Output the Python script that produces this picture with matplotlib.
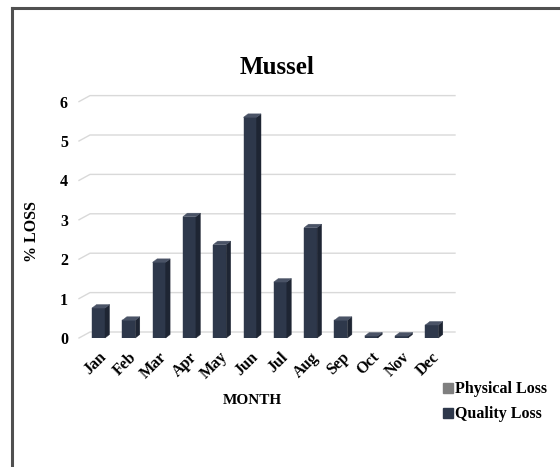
import matplotlib
matplotlib.use("Agg")
import matplotlib.pyplot as plt
from matplotlib.patches import Polygon
from matplotlib.lines import Line2D
import numpy as np

months = ["Jan", "Feb", "Mar", "Apr", "May", "Jun", "Jul", "Aug", "Sep", "Oct", "Nov", "Dec"]
quality_loss = [0.76, 0.45, 1.92, 3.08, 2.37, 5.6, 1.42, 2.8, 0.45, 0.05, 0.05, 0.33]
physical_loss = [0, 0, 0, 0, 0, 0, 0, 0, 0, 0, 0, 0]
yticks = [0, 1, 2, 3, 4, 5, 6]

FONT = "Liberation Serif"
FRONT = "#2E384B"
SIDE = "#1E2533"
TOP = "#4A5366"
PHYS = "#7F7F7F"

fig = plt.figure(figsize=(5.6, 4.67), dpi=100)
# border (top and left visible)
fig.add_artist(Line2D([11.5/560, 11.5/560], [0, 1 - 7.5/467], color="#505050", lw=2.2))
fig.add_artist(Line2D([11.5/560, 1], [1 - 7.5/467, 1 - 7.5/467], color="#505050", lw=2.2))

# axes in pixel coordinates (front plane)
left_px, right_px = 79, 444
zero_px, top_px = 338, 92
ax = fig.add_axes([left_px/560, (467-zero_px)/467, (right_px-left_px)/560, (zero_px-top_px)/467])
unit_x = 30.3
unit_y = 39.4
xmin = (left_px - 98.5)/unit_x
xmax = (right_px - 98.5)/unit_x
ax.set_xlim(xmin, xmax)
ax.set_ylim(0, (zero_px - top_px)/unit_y)
for s in ax.spines.values():
    s.set_visible(False)
ax.set_facecolor("none")

# floor depth for back wall gridlines
fdx = 11/unit_x
fdy = 6/unit_y
for t in yticks:
    ax.plot([xmin, xmin + fdx, xmax + fdx], [t, t + fdy, t + fdy], color="#D9D9D9",
            lw=1.0, clip_on=False, zorder=1)

x = np.arange(len(months))
w = 13/unit_x
bdx = 4.5/unit_x
bdy = 3.5/unit_y
ax.bar(x, physical_loss, width=w, color=PHYS, zorder=2)
ax.bar(x, quality_loss, width=w, color=FRONT, zorder=3, edgecolor=FRONT, linewidth=0.3)
for xi, v in zip(x, quality_loss):
    r = xi + w/2
    l = xi - w/2
    ax.add_patch(Polygon([(r, 0), (r + bdx, bdy), (r + bdx, v + bdy), (r, v)],
                         closed=True, facecolor=SIDE, edgecolor=SIDE, lw=0.3, zorder=3, clip_on=False))
    ax.add_patch(Polygon([(l, v), (r, v), (r + bdx, v + bdy), (l + bdx, v + bdy)],
                         closed=True, facecolor=TOP, edgecolor=TOP, lw=0.3, zorder=3, clip_on=False))

ax.set_yticks(yticks)
ax.set_yticklabels([str(t) for t in yticks], fontfamily=FONT, fontweight="bold", fontsize=11.5)
ax.tick_params(axis="y", length=0, pad=8)
ax.set_xticks(x)
ax.set_xticklabels(months, rotation=45, ha="right", va="top", rotation_mode="anchor",
                   fontfamily=FONT, fontweight="bold", fontsize=11.5)
ax.tick_params(axis="x", length=0, pad=8)

fig.text(277/560, 1 - 68/467, "Mussel", fontfamily=FONT, fontweight="bold", fontsize=18,
         ha="center", va="center")
fig.text(252/560, 1 - 401/467, "MONTH", fontfamily=FONT, fontweight="bold", fontsize=11,
         ha="center", va="center")
fig.text(32/560, 1 - 232/467, "% LOSS", fontfamily=FONT, fontweight="bold", fontsize=11.5,
         ha="center", va="center", rotation=90)

handles = [Line2D([], [], marker="s", ls="none", color=PHYS, markersize=7),
           Line2D([], [], marker="s", ls="none", color=FRONT, markersize=7)]
fig.legend(handles, ["Physical Loss", "Quality Loss"], loc="upper left",
           bbox_to_anchor=(429/560, 1 - 367/467), frameon=False, handlelength=0.6,
           handletextpad=0.15, labelspacing=0.55,
           prop={"family": FONT, "weight": "bold", "size": 11.5})

fig.savefig("out.png", dpi=100)
